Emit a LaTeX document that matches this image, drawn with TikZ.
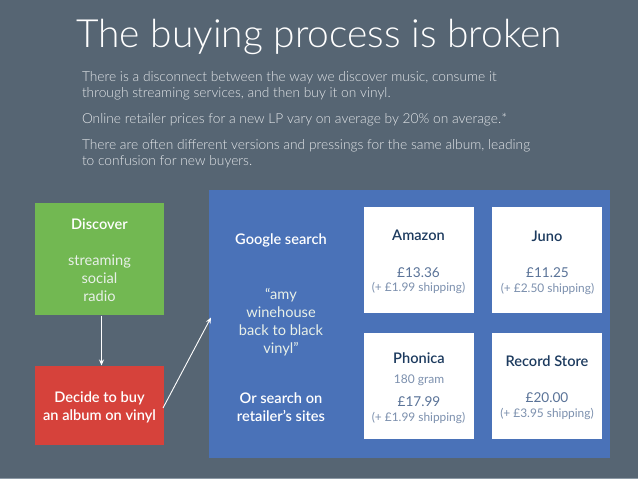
\documentclass[tikz,border=0pt]{standalone}
\usepackage{fontspec}
\setmainfont{Lato}[BoldFont={Lato Semibold}]
\newfontfamily\lightfont{Lato Light}
\definecolor{bg}{HTML}{566573}
\definecolor{grn}{HTML}{72B852}
\definecolor{redb}{HTML}{D6423B}
\definecolor{blu}{HTML}{4A72B8}
\definecolor{titlec}{HTML}{FFFFFF}
\definecolor{bodyc}{HTML}{E4E7EA}
\definecolor{softw}{HTML}{E8F0E8}
\definecolor{navy}{HTML}{1C3A5E}
\definecolor{price}{HTML}{5A7398}
\definecolor{ship}{HTML}{7C90AE}
\definecolor{edge}{HTML}{8C99A5}
\newcommand{\fs}[2]{\fontsize{#1}{#2}\selectfont}
\tikzset{
  x=1pt,y=-1pt,
  txt/.style={inner sep=0pt,outer sep=0pt,align=center},
  para/.style={inner sep=0pt,outer sep=0pt,anchor=north west,align=left,text=bodyc,font=\lightfont\fs{13.75}{16.5}},
  head/.style={txt,text=white,font=\bfseries\fs{14.6}{18}},
  body/.style={txt,text=softw,font=\fs{14.6}{18}},
  store/.style={txt,text=navy,font=\bfseries\fs{14.6}{18}},
  pricet/.style={txt,text=price,font=\fs{13.6}{18}},
  shipt/.style={txt,text=ship,font=\fs{11.9}{14}},
  conn/.style={draw=white,line width=0.9pt,-{Stealth[length=6pt,width=5pt]}},
}
\usetikzlibrary{arrows.meta}
\begin{document}
\begin{tikzpicture}
\useasboundingbox (0,0) rectangle (638,479);
\fill[bg] (0,0) rectangle (638,479);
\fill[edge] (0,478) rectangle (638,479);
\fill[grn] (35,203) rectangle (164,315);
\fill[redb] (35,366) rectangle (164,445);
\fill[blu] (209,190) rectangle (610,458);
\fill[white] (364,207) rectangle (474,313);
\fill[white] (492,207) rectangle (602,313);
\fill[white] (364,333) rectangle (474,439);
\fill[white] (492,333) rectangle (602,439);
\node[txt,text=titlec,font=\lightfont\fs{38.9}{42}] (title) at (319,37) {The buying process is broken};
\node[para] (p1) at (82,71) {There is a disconnect between the way we discover music, consume it\\through streaming services, and then buy it on vinyl.};
\node[para] (p2) at (82,113.5) {Online retailer prices for a new LP vary on average by 20\% on average.*};
\node[para] (p3) at (82,139) {There are often different versions and pressings for the same album, leading\\to confusion for new buyers.};
\node[head] (discover) at (99.5,224) {Discover};
\node[body] (sources) at (99.5,278.5) {streaming\\social\\radio};
\node[head] (decide) at (99.5,407.5) {Decide to buy\\an album on vinyl};
\node[head] (google) at (281,240.5) {Google search};
\node[body] (query) at (281,322) {“amy\\winehouse\\back to black\\vinyl”};
\node[head] (orsearch) at (281,407.5) {Or search on\\retailer’s sites};
\node[store] (amazon) at (418.5,235) {Amazon};
\node[pricet] (amazonp) at (418.5,272.5) {£13.36};
\node[shipt] (amazons) at (418.5,288) {(+ £1.99 shipping)};
\node[store] (juno) at (547,236) {Juno};
\node[pricet] (junop) at (547.5,272.5) {£11.25};
\node[shipt] (junos) at (547.5,289) {(+ £2.50 shipping)};
\node[store] (phonica) at (419,358) {Phonica};
\node[shipt,font=\fs{12}{14}] (gram) at (419,380) {180 gram};
\node[pricet] (phonicap) at (419,401.5) {£17.99};
\node[shipt] (phonicas) at (418.5,418) {(+ £1.99 shipping)};
\node[store] (record) at (547,361) {Record Store};
\node[pricet] (recordp) at (547,397.5) {£20.00};
\node[shipt] (records) at (547,414) {(+ £3.95 shipping)};
\coordinate (a1) at (101.5,315.5);
\coordinate (a2) at (101.5,365.5);
\coordinate (b1) at (163,408);
\coordinate (b2) at (211,317.5);
\draw[conn] (a1) -- (a2);
\draw[conn] (b1) -- (b2);
\end{tikzpicture}
\end{document}
